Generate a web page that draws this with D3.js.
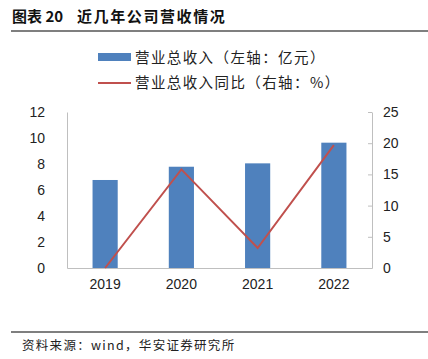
<!DOCTYPE html>
<html><head><meta charset="utf-8">
<script src="https://cdn.jsdelivr.net/npm/d3@7/dist/d3.min.js"></script>
<style>
html,body{margin:0;padding:0;background:#fff;}
svg{display:block;font-family:"Noto Sans CJK SC","Liberation Sans",sans-serif;}
</style></head>
<body>
<script>
const categories = ["2019","2020","2021","2022"];
const revenue = [6.77, 7.79, 8.05, 9.64];
const growth = [0.0, 15.8, 3.2, 19.7];
const leftTicks = [0,2,4,6,8,10,12];
const rightTicks = [0,5,10,15,20,25];
const titleNum = "图表 20";
const titleText = "近几年公司营收情况";
const source = "资料来源：wind，华安证券研究所";
const legendLabels = ["营业总收入（左轴：亿元）","营业总收入同比（右轴：%）"];

(function(){
const W=428,H=359;
const svg=d3.select("body").append("svg").attr("width",W).attr("height",H);
const pl=67,pr=372,pt=112,pb=268;

const x=d3.scaleBand().domain(categories).range([pl,pr]).paddingInner(0.67).paddingOuter(0.335);
const yL=d3.scaleLinear().domain([0,12]).range([pb,pt]);
const yR=d3.scaleLinear().domain([0,25]).range([pb,pt]);

// title
svg.append("text").attr("x",12).attr("y",22).attr("font-size",15).attr("font-weight","bold")
  .attr("fill","#111").text(titleNum);
svg.append("text").attr("x",77).attr("y",22).attr("font-size",15).attr("font-weight","bold")
  .attr("letter-spacing",1.6).attr("fill","#111").text(titleText);
svg.append("line").attr("x1",11).attr("x2",428).attr("y1",31).attr("y2",31).attr("stroke","#555").attr("stroke-width",1.5);

// legend
svg.append("rect").attr("x",98).attr("y",53).attr("width",33).attr("height",8).attr("fill","#4f81bd");
svg.append("line").attr("x1",98).attr("x2",131).attr("y1",83).attr("y2",83).attr("stroke","#c0504d").attr("stroke-width",2);
legendLabels.forEach((t,i)=>{
  svg.append("text").attr("x",135).attr("y",58+i*25).attr("dy","0.35em").attr("font-size",14.5)
   .attr("letter-spacing",1.4).attr("fill","#222").text(t);
});

// bars
svg.selectAll("rect.bar").data(categories).enter().append("rect").attr("class","bar")
  .attr("x",d=>x(d)).attr("width",x.bandwidth())
  .attr("y",(d,i)=>yL(revenue[i])).attr("height",(d,i)=>pb-yL(revenue[i]))
  .attr("fill","#4f81bd");

// axes
const gL=svg.append("g").attr("transform",`translate(${pl},0)`)
  .call(d3.axisLeft(yL).tickValues(leftTicks).tickSize(0).tickPadding(22));
gL.select(".domain").attr("stroke","#bfbfbf");
gL.selectAll("text").attr("font-size",14).attr("fill","#222").attr("font-family","Liberation Sans, Arial, sans-serif");

const gR=svg.append("g").attr("transform",`translate(${pr},0)`)
  .call(d3.axisRight(yR).tickValues(rightTicks).tickSizeInner(-4).tickSizeOuter(0).tickPadding(11));
gR.select(".domain").attr("stroke","#bfbfbf");
gR.selectAll("line").attr("stroke","#bfbfbf");
gR.selectAll("text").attr("font-size",14).attr("fill","#222").attr("font-family","Liberation Sans, Arial, sans-serif");

const gB=svg.append("g").attr("transform",`translate(0,${pb})`)
  .call(d3.axisBottom(x).tickSize(0).tickPadding(11).tickSizeOuter(0));
gB.select(".domain").attr("stroke","#bfbfbf");
gB.selectAll("text").attr("font-size",14).attr("fill","#222").attr("font-family","Liberation Sans, Arial, sans-serif");

// line
const line=d3.line().x((d,i)=>x(categories[i])+x.bandwidth()/2).y(d=>yR(d));
svg.append("path").datum(growth).attr("d",line).attr("fill","none").attr("stroke","#c0504d").attr("stroke-width",2);

// footer
svg.append("line").attr("x1",11).attr("x2",428).attr("y1",332).attr("y2",332).attr("stroke","#555").attr("stroke-width",1.5);
svg.append("text").attr("x",22).attr("y",350).attr("font-size",12.5).attr("letter-spacing",1.3).attr("fill","#222").text(source);
})();
</script>
</body></html>
